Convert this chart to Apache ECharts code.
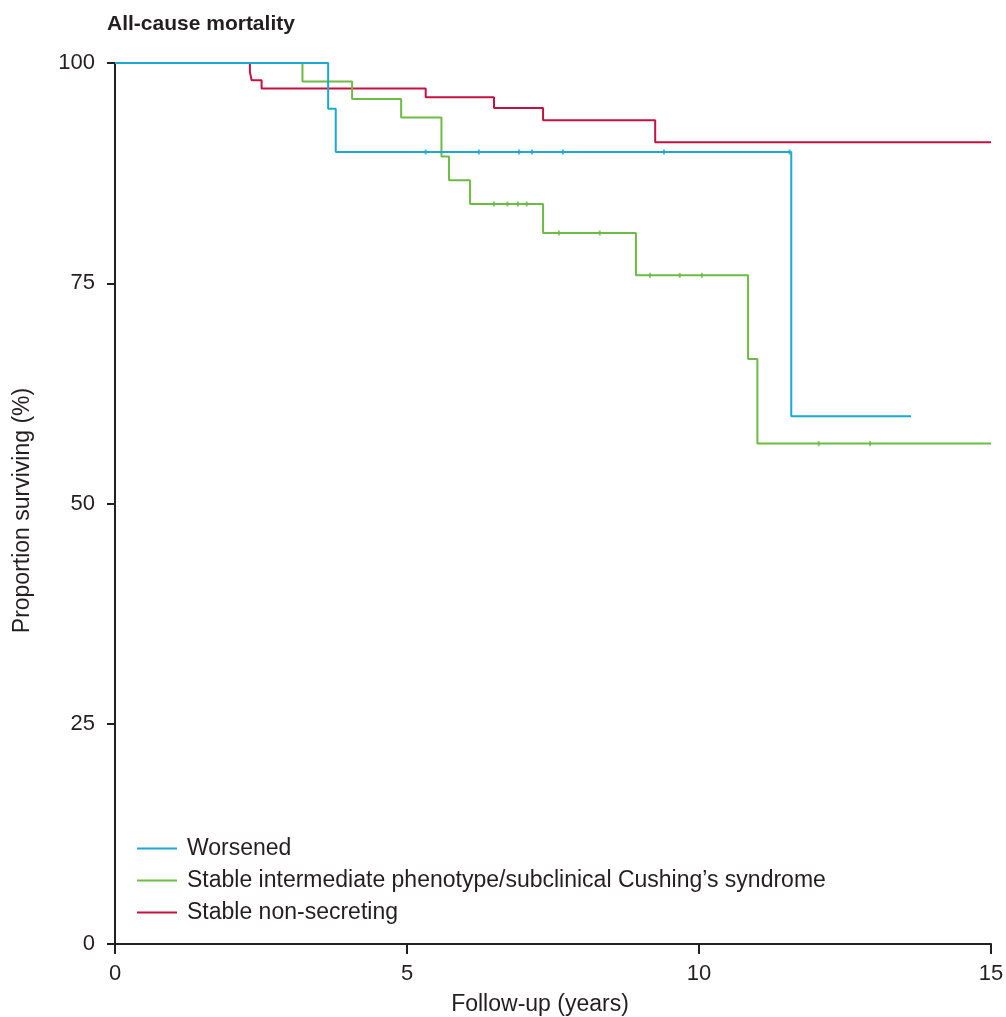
<!DOCTYPE html>
<html>
<head>
<meta charset="utf-8">
<script src="https://cdn.jsdelivr.net/npm/echarts@6/dist/echarts.min.js"></script>
<style>
    html, body { margin: 0; padding: 0; background: #fff; }
    #chart { width: 1006px; height: 1017px; }
</style>
</head>
<body>
<div id="chart"></div>
<script>
// 各组生存曲线的事件时间 (年) 和生存比例 (%)
var worsenedTimes = [0, 3.65, 3.78, 11.58, 13.63];
var worsenedSurv = [100, 94.8, 89.9, 59.9, 59.9];
var worsenedCensor = [5.32, 6.23, 6.92, 7.14, 7.67, 9.40, 11.55];

var stableIntTimes = [0, 3.21, 4.06, 4.90, 5.59, 5.72, 6.08, 7.33, 8.92, 10.84, 11.0, 15];
var stableIntSurv = [100, 97.9, 95.9, 93.8, 89.4, 86.7, 84.0, 80.7, 75.9, 66.4, 56.8, 56.8];
var stableIntCensor = [6.49, 6.72, 6.90, 7.05, 7.60, 8.30, 9.16, 9.67, 10.05, 12.05, 12.93];

var nonSecTimes = [0, 2.31, 2.34, 2.51, 5.32, 6.49, 7.33, 9.25, 15];
var nonSecSurv = [100, 99.0, 98.05, 97.1, 96.1, 94.9, 93.5, 91.0, 91.0];
var nonSecCensor = [];

var xTicks = [0, 5, 10, 15];
var yTicks = [0, 25, 50, 75, 100];

var groupNames = ['Worsened', 'Stable intermediate phenotype/subclinical Cushing\u2019s syndrome', 'Stable non-secreting'];
var groupColors = ['#1ba8d1', '#6cbb43', '#c5113f'];

(function () {
    let chart = echarts.init(document.getElementById('chart'));
    const font = '"Liberation Sans", Arial, sans-serif';
    const ink = '#231f20';

    function pairs(ts, ss) {
        return ts.map((t, i) => [t, ss[i]]);
    }
    // 删失点的 y 值取该时刻的曲线值
    function censorPts(ts, ss, cs) {
        return cs.map(c => {
            let v = ss[0];
            for (let i = 0; i < ts.length; i++) {
                if (ts[i] <= c) v = ss[i];
            }
            return [c, v];
        });
    }

    const groups = [
        [worsenedTimes, worsenedSurv, worsenedCensor],
        [stableIntTimes, stableIntSurv, stableIntCensor],
        [nonSecTimes, nonSecSurv, nonSecCensor]
    ];

    let series = [];
    groups.forEach((g, k) => {
        series.push({
            name: groupNames[k],
            type: 'line',
            step: 'end',
            data: pairs(g[0], g[1]),
            showSymbol: false,
            lineStyle: { color: groupColors[k], width: 2 },
            itemStyle: { color: groupColors[k] },
            z: 3 - k
        });
        series.push({
            name: groupNames[k],
            type: 'scatter',
            data: censorPts(g[0], g[1], g[2]),
            symbol: 'rect',
            symbolSize: [2, 5],
            itemStyle: { color: groupColors[k] },
            z: 3 - k
        });
    });

    let option = {
        animation: false,
        title: {
            text: 'All-cause mortality',
            left: 107,
            top: 14,
            padding: 0,
            textStyle: { fontFamily: font, fontSize: 21, fontWeight: 'bold', color: ink }
        },
        legend: {
            orient: 'vertical',
            left: 137,
            top: 837,
            padding: 0,
            itemWidth: 40,
            itemHeight: 2,
            itemGap: 9,
            icon: 'rect',
            data: groupNames.map((n, k) => ({ name: n, itemStyle: { color: groupColors[k] } })),
            textStyle: { fontFamily: font, fontSize: 23, color: ink, padding: [0, 0, 0, 5] }
        },
        grid: {
            left: 115,
            right: 15,
            top: 63,
            bottom: 73,
            outerBoundsMode: 'none',
            containLabel: false
        },
        xAxis: {
            type: 'value',
            min: 0,
            max: 15,
            interval: 5,
            name: 'Follow-up (years)',
            nameLocation: 'middle',
            nameGap: 49,
            nameTextStyle: { fontFamily: font, fontSize: 23, color: ink, padding: [0, 26, 0, 0] },
            axisLine: { lineStyle: { color: ink, width: 2 } },
            axisTick: { show: true, length: 10, lineStyle: { color: ink, width: 2 } },
            axisLabel: {
                fontFamily: font, fontSize: 22, color: ink, margin: 19,
                formatter: v => xTicks.indexOf(v) >= 0 ? String(v) : ''
            },
            splitLine: { show: false }
        },
        yAxis: {
            type: 'value',
            min: 0,
            max: 100,
            interval: 25,
            name: 'Proportion surviving (%)',
            nameLocation: 'middle',
            nameGap: 81,
            nameRotate: 90,
            nameTextStyle: { fontFamily: font, fontSize: 23, color: ink, padding: [0, 14, 0, 0] },
            axisLine: { show: true, lineStyle: { color: ink, width: 2 } },
            axisTick: { show: true, length: 8, lineStyle: { color: ink, width: 2 } },
            axisLabel: {
                fontFamily: font, fontSize: 22, color: ink, margin: 20,
                formatter: v => yTicks.indexOf(v) >= 0 ? String(v) : ''
            },
            splitLine: { show: false }
        },
        series: series
    };
    chart.setOption(option);
})();
</script>
</body>
</html>
